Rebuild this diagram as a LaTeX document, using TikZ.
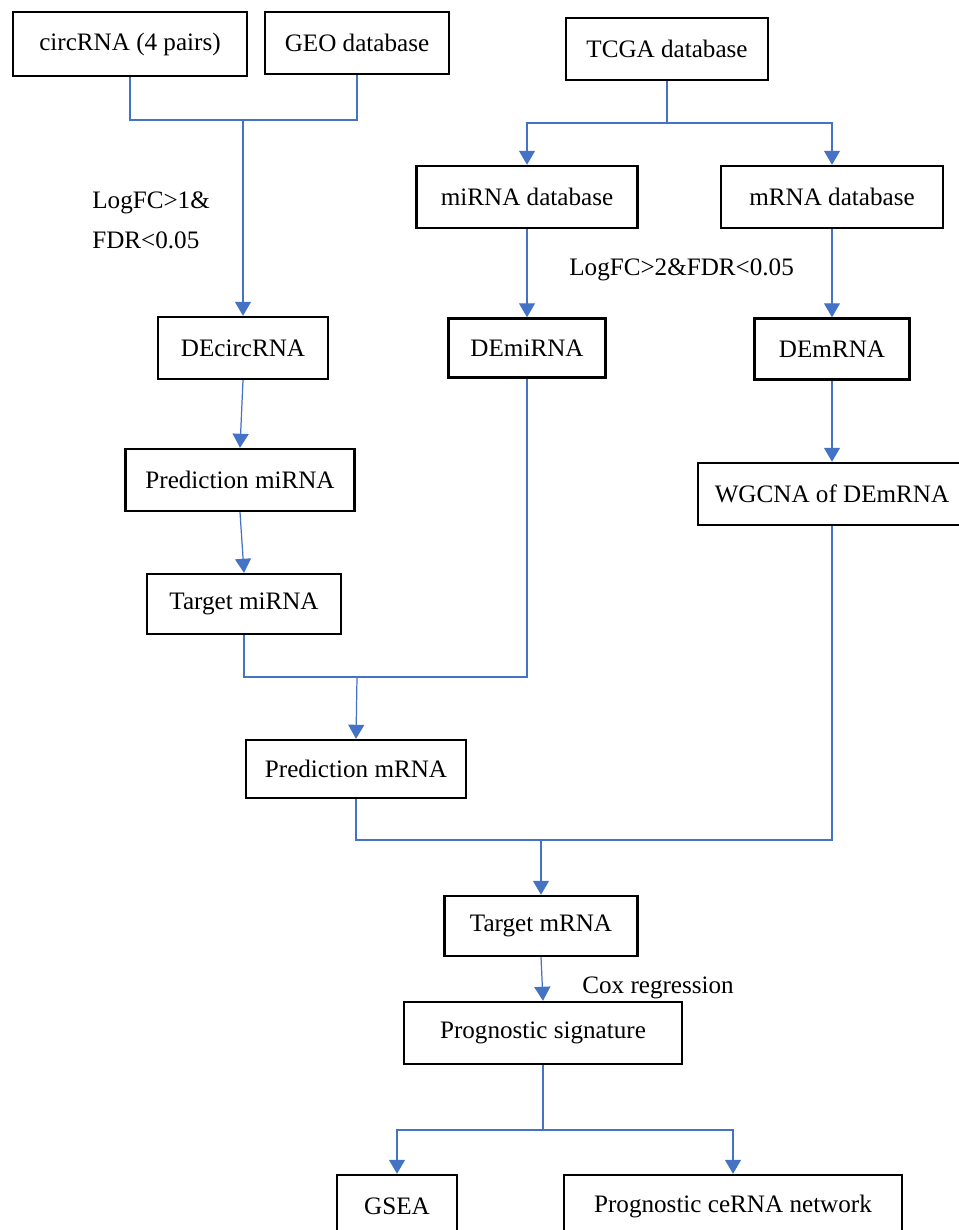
\documentclass[tikz,border=0pt]{standalone}
\usepackage{fontspec}
\setmainfont{Liberation Serif}
\usetikzlibrary{arrows.meta}
\definecolor{linkblue}{HTML}{4472C4}
\tikzset{
  box/.style={draw=black, line width=1.4pt, fill=white, inner sep=0pt,
    font=\fontsize{14.3}{17}\selectfont},
  link/.style={draw=linkblue, line width=0.7pt},
  linkarrow/.style={link, -{Triangle[width=0.32cm,length=0.28cm]}},
  note/.style={anchor=west, inner sep=0pt, font=\fontsize{14.3}{17}\selectfont}
}
\begin{document}
\begin{tikzpicture}[x=0.02cm,y=-0.02cm]
  \useasboundingbox (0,0) rectangle (959,1230);
  \clip (0,0) rectangle (959,1230);
  % boxes
  \node[box, minimum width=4.68cm, minimum height=1.28cm] (circ) at (130,44) {circRNA (4 pairs)};
  \node[box, minimum width=3.68cm, minimum height=1.24cm] (geo) at (357,43) {GEO database};
  \node[box, minimum width=4.04cm, minimum height=1.24cm] (tcga) at (667,49) {TCGA database};
  \node[box, minimum width=4.42cm, minimum height=1.24cm] (mirdb) at (527,197) {miRNA database};
  \node[box, minimum width=4.44cm, minimum height=1.24cm] (mrdb) at (832,197) {mRNA database};
  \node[box, minimum width=3.40cm, minimum height=1.24cm] (decirc) at (243,348) {DEcircRNA};
  \node[box, minimum width=3.14cm, minimum height=1.18cm] (demir) at (527,348) {DEmiRNA};
  \node[box, minimum width=3.10cm, minimum height=1.22cm] (demr) at (832,349) {DEmRNA};
  \node[box, minimum width=4.58cm, minimum height=1.24cm] (predmir) at (240,480) {Prediction miRNA};
  \node[box, minimum width=5.36cm, minimum height=1.24cm] (wgcna) at (832,494) {WGCNA of DEmRNA};
  \node[box, minimum width=3.88cm, minimum height=1.20cm] (tarmir) at (244,604) {Target miRNA};
  \node[box, minimum width=4.40cm, minimum height=1.16cm] (predmr) at (356,769) {Prediction mRNA};
  \node[box, minimum width=3.86cm, minimum height=1.20cm] (tarmr) at (541,926) {Target mRNA};
  \node[box, minimum width=5.56cm, minimum height=1.24cm] (prog) at (543,1033) {Prognostic signature};
  \node[box, minimum width=2.40cm, minimum height=1.24cm] (gsea) at (397,1206) {GSEA};
  \node[box, minimum width=6.76cm, minimum height=1.24cm] (cerna) at (733,1206) {Prognostic ceRNA network};
  % labels
  \node[note] (fc1) at (92,203) {LogFC>1\&};
  \node[note] (fdr1) at (92,240) {FDR<0.05};
  \node[note] (fc2) at (569,270) {LogFC>2\&FDR<0.05};
  \node[note] (cox) at (582,988) {Cox regression};
  % joints
  \coordinate (j1) at (243,120);
  \coordinate (j2) at (667,123);
  \coordinate (j3) at (357,677);
  \coordinate (j4) at (541,840);
  \coordinate (j5) at (543,1130);
  % connectors
  \draw[link] (circ.south) |- (j1) -| (geo.south);
  \draw[linkarrow] (j1) -- (decirc.north);
  \draw[link] (tcga.south) -- (j2);
  \draw[linkarrow] (j2) -| (mirdb.north);
  \draw[linkarrow] (j2) -| (mrdb.north);
  \draw[linkarrow] (mirdb) -- (demir);
  \draw[linkarrow] (mrdb) -- (demr);
  \draw[linkarrow] (decirc.south) -- (predmir.north);
  \draw[linkarrow] (predmir.south) -- (tarmir.north);
  \draw[linkarrow] (demr.south) -- (wgcna.north);
  \draw[link] (tarmir.south) |- (j3) -| (demir.south);
  \draw[linkarrow] (j3) -- (predmr.north);
  \draw[link] (predmr.south) |- (j4) -| (wgcna.south);
  \draw[linkarrow] (j4) -- (tarmr.north);
  \draw[linkarrow] (tarmr.south) -- (prog.north);
  \draw[link] (prog.south) -- (j5);
  \draw[linkarrow] (j5) -| (gsea.north);
  \draw[linkarrow] (j5) -| (cerna.north);
\end{tikzpicture}
\end{document}
